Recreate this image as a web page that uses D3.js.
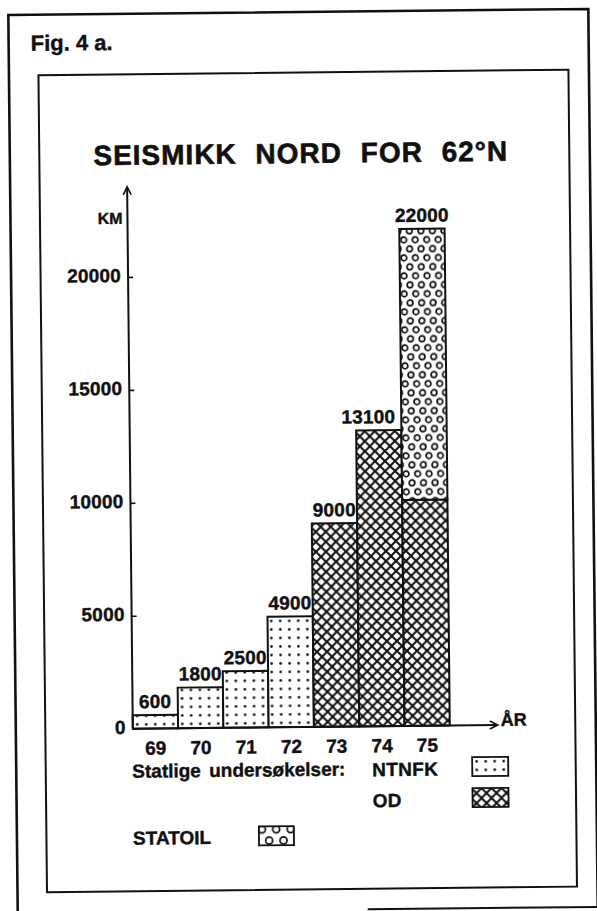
<!DOCTYPE html>
<html>
<head>
<meta charset="utf-8">
<script src="https://cdn.jsdelivr.net/npm/d3@7"></script>
<style>
  html, body { margin: 0; padding: 0; background: #fff; }
  svg { display: block; }
  text {
    font-family: "Liberation Sans", Arial, Helvetica, sans-serif; font-weight: bold;
    fill: #111; stroke: #111; stroke-width: 0.4px; paint-order: stroke;
  }
</style>
</head>
<body>
<svg id="chart" width="597" height="911"></svg>
<script>
// Seismic survey kilometres north of 62°N, by year and by party
const years   = ["69", "70", "71", "72", "73", "74", "75"];
const ntnfk   = [600, 1800, 2500, 4900, 0, 0, 0];
const od      = [0, 0, 0, 0, 9000, 13100, 10000];
const statoil = [0, 0, 0, 0, 0, 0, 12000];
const totals  = [600, 1800, 2500, 4900, 9000, 13100, 22000];
const yTicks  = [0, 5000, 10000, 15000, 20000];
const seriesKeys = ["ntnfk", "od", "statoil"];

const rows = years.map((yr, i) => ({ year: yr, ntnfk: ntnfk[i], od: od[i], statoil: statoil[i], total: totals[i] }));

const ink = "#111";
const svg = d3.select("#chart");
const defs = svg.append("defs");

// Fill patterns: dots (NTNFK), cross-hatch (OD), rings (STATOIL)
function makePatterns(suffix, ox, oy, k) {
  const dw = 9 * k, dh = 8.5 * k;
  const pd = defs.append("pattern").attr("id", "dots" + suffix)
    .attr("patternUnits", "userSpaceOnUse").attr("x", ox).attr("y", oy)
    .attr("width", dw).attr("height", dh);
  pd.append("rect").attr("width", dw).attr("height", dh).attr("fill", "#fff");
  pd.append("circle").attr("cx", dw / 2).attr("cy", dh / 2).attr("r", 1.3).attr("fill", ink);

  const hw = 10 * k;
  const ph = defs.append("pattern").attr("id", "hatch" + suffix)
    .attr("patternUnits", "userSpaceOnUse").attr("x", ox).attr("y", oy)
    .attr("width", hw).attr("height", hw);
  ph.append("rect").attr("width", hw).attr("height", hw).attr("fill", "#fff");
  ph.append("path")
    .attr("d", `M${-hw*0.1},${-hw*0.1}L${hw*1.1},${hw*1.1}M${hw*1.1},${-hw*0.1}L${-hw*0.1},${hw*1.1}`)
    .attr("stroke", ink).attr("stroke-width", 2).attr("fill", "none");

  const rw = 11.5 * k, rh = 18 * k;
  const pr = defs.append("pattern").attr("id", "rings" + suffix)
    .attr("patternUnits", "userSpaceOnUse").attr("x", ox).attr("y", oy)
    .attr("width", rw).attr("height", rh);
  pr.append("rect").attr("width", rw).attr("height", rh).attr("fill", "#fff");
  [[0, 0], [rw, 0], [0, rh], [rw, rh], [rw / 2, rh / 2]].forEach(([cx, cy]) => {
    pr.append("circle").attr("cx", cx).attr("cy", cy).attr("r", 2.8 * k)
      .attr("fill", "none").attr("stroke", ink).attr("stroke-width", 1.7);
  });
}

const fills = { ntnfk: "dots", od: "hatch", statoil: "rings" };

// Whole sheet sits slightly askew on the page
const page = svg.append("g").attr("transform", "rotate(-0.6 300 460)");

// Outer sheet border and inner chart frame
page.append("path")
  .attr("d", "M13,913V12H593V911")
  .attr("fill", "none").attr("stroke", ink).attr("stroke-width", 2.6);
page.append("line").attr("x1", 363).attr("x2", 593).attr("y1", 910).attr("y2", 910)
  .attr("stroke", ink).attr("stroke-width", 2);
page.append("rect").attr("x", 42.5).attr("y", 72.5).attr("width", 530).attr("height", 817)
  .attr("fill", "none").attr("stroke", ink).attr("stroke-width", 2);

page.append("text").attr("x", 35).attr("y", 48).attr("font-size", 22).text("Fig. 4 a.");

page.append("text").attr("x", 304).attr("y", 163).attr("text-anchor", "middle")
  .attr("font-size", 28).style("letter-spacing", "1px").style("word-spacing", "10px")
  .style("stroke-width", "0.6px")
  .text("SEISMIKK NORD FOR 62°N");

// Scales
const x = d3.scaleBand().domain(years).range([130, 447]).padding(0);
const y = d3.scaleLinear().domain([0, 22000]).range([727, 230]);

const bw = x.bandwidth();
makePatterns("", x.range()[0], y(0), 1);

// Stacked bars
const stacked = d3.stack().keys(seriesKeys)(rows);
const barG = page.append("g");
stacked.forEach(layer => {
  barG.selectAll(null).data(layer.filter(d => d[1] > d[0])).join("rect")
    .attr("x", d => x(d.data.year))
    .attr("y", d => y(d[1]))
    .attr("width", bw)
    .attr("height", d => y(d[0]) - y(d[1]))
    .attr("fill", `url(#${fills[layer.key]})`)
    .attr("stroke", ink).attr("stroke-width", 2);
});

// Value labels above each bar; a label that would run into a taller
// neighbouring bar is nudged left to clear it
const valueLabels = page.append("g").selectAll("text").data(rows).join("text")
  .attr("x", d => x(d.year) + bw / 2)
  .attr("y", d => y(d.total) - 7)
  .attr("text-anchor", "middle").attr("font-size", 19).style("letter-spacing", "0.2px")
  .text(d => d.total);
valueLabels.each(function (d, i) {
  const next = rows[i + 1];
  if (!next || next.total <= d.total) return;
  const half = this.getComputedTextLength() / 2;
  const cx = x(d.year) + bw / 2;
  const limit = x(next.year);
  if (cx + half > limit + 1) d3.select(this).attr("x", limit - 6 - half);
});

// Y axis with arrow
const yAxis = d3.axisRight(y).tickValues(yTicks).tickSize(5).tickFormat("");
const yG = page.append("g").attr("transform", `translate(${x.range()[0]},0)`).call(yAxis);
yG.select(".domain").remove();
yG.selectAll(".tick line").attr("stroke", ink).attr("stroke-width", 1.6);
page.append("line").attr("x1", 130).attr("x2", 130).attr("y1", y(0)).attr("y2", 186)
  .attr("stroke", ink).attr("stroke-width", 2);
page.append("path").attr("d", "M126,193L130,185L134,193").attr("fill", "none")
  .attr("stroke", ink).attr("stroke-width", 1.6);

page.append("g").selectAll("text").data(yTicks).join("text")
  .attr("x", 123).attr("y", d => y(d) + 5)
  .attr("text-anchor", "end").attr("font-size", 19).style("letter-spacing", "0.2px")
  .text(d => d);

page.append("text").attr("x", 125).attr("y", 222).attr("text-anchor", "end")
  .attr("font-size", 16).text("KM");

// X axis with arrow
page.append("line").attr("x1", 130).attr("x2", 494).attr("y1", y(0)).attr("y2", y(0))
  .attr("stroke", ink).attr("stroke-width", 2);
page.append("path").attr("d", `M487,${y(0) - 4}L495,${y(0)}L487,${y(0) + 4}`).attr("fill", "none")
  .attr("stroke", ink).attr("stroke-width", 1.6);
page.append("text").attr("x", 498).attr("y", y(0) + 1).attr("font-size", 18).text("ÅR");

page.append("g").selectAll("text").data(years).join("text")
  .attr("x", d => x(d) + bw / 2)
  .attr("y", y(0) + 26)
  .attr("text-anchor", "middle").attr("font-size", 19)
  .text(d => d);

// Legend
page.append("text").attr("x", 129).attr("y", 776).attr("font-size", 19)
  .style("word-spacing", "3px").text("Statlige undersøkelser:");
page.append("text").attr("x", 369).attr("y", 777).attr("font-size", 19).style("letter-spacing", "0.3px").text("NTNFK");
page.append("text").attr("x", 369).attr("y", 808).attr("font-size", 19).style("letter-spacing", "0.3px").text("OD");
page.append("text").attr("x", 129).attr("y", 843).attr("font-size", 19).text("STATOIL");

const legendBoxes = [
  { key: "ntnfk", x: 469, y: 759, w: 36, h: 19, k: 1, ox: 0, oy: 0 },
  { key: "od", x: 469, y: 790, w: 36, h: 19, k: 1, ox: -1, oy: 0 },
  { key: "statoil", x: 255, y: 826, w: 35, h: 19, k: 1.25, ox: 3, oy: 3 }
];
legendBoxes.forEach((b, i) => {
  makePatterns("L" + i, b.x + b.ox, b.y + b.oy, b.k);
  page.append("rect").attr("x", b.x).attr("y", b.y).attr("width", b.w).attr("height", b.h)
    .attr("fill", `url(#${fills[b.key]}L${i})`)
    .attr("stroke", ink).attr("stroke-width", 1.8);
});
</script>
</body>
</html>
